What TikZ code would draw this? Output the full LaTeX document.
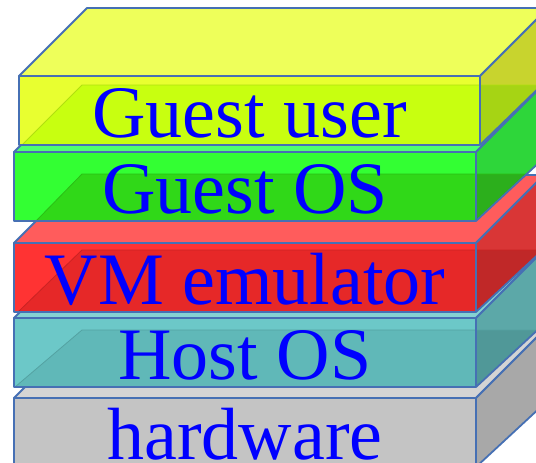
\documentclass[tikz,border=0pt]{standalone}
\usepackage{fontspec}
\setmainfont{Liberation Serif}
\definecolor{edgeblue}{HTML}{4670B4}
\definecolor{txtblue}{HTML}{0000FF}
% yellow
\definecolor{ytop}{HTML}{EEFF5A}\definecolor{yfl}{HTML}{E8FF30}\definecolor{yfd}{HTML}{C8FF10}
\definecolor{yru}{HTML}{C8D42E}\definecolor{yrd}{HTML}{A6D414}
% green
\definecolor{gtop}{HTML}{50FF70}\definecolor{gfl}{HTML}{33FF33}\definecolor{gfd}{HTML}{30D818}
\definecolor{gru}{HTML}{2ED63A}\definecolor{grd}{HTML}{2CAF1C}
% red
\definecolor{rtop}{HTML}{FF5C5C}\definecolor{rfl}{HTML}{FF3333}\definecolor{rfd}{HTML}{E62828}
\definecolor{rru}{HTML}{D93636}\definecolor{rrd}{HTML}{C02828}
% cyan
\definecolor{ctop}{HTML}{85D2D2}\definecolor{cfl}{HTML}{6CC8C8}\definecolor{cfd}{HTML}{60B8B8}
\definecolor{cru}{HTML}{5CA8A8}\definecolor{crd}{HTML}{509898}
% gray
\definecolor{htop}{HTML}{D4D4D4}\definecolor{hfl}{HTML}{C4C4C4}\definecolor{hfd}{HTML}{C4C4C4}
\definecolor{hru}{HTML}{A8A8A8}\definecolor{hrd}{HTML}{A8A8A8}
% #1 L, #2 R, #3 T, #4 B, #5 inner y, #6 inner diag start x, #7 colour prefix, #8 lower-right rise
\newcommand\stackbox[8]{%
  \path[edge, fill=#7top] (#1,#3) -- ({#1+68},{#3-68}) -- ({#2+68},{#3-68}) -- (#2,#3) -- cycle;
  \path[fill=#7ru] (#2,#3) -- ({#2+68},{#3-68}) -- ({#2+68},{#4-#8}) -- (#2,#4) -- cycle;
  \path[fill=#7fl] (#1,#3) rectangle (#2,#4);
  \begin{scope}
    \clip (#1,#3) -- (#2,#3) -- ({#2+68},{#3-68}) -- ({#2+68},{#4-#8}) -- (#2,#4) -- (#1,#4) -- cycle;
    \path[fill=#7fd] (#6,#4) -- (82,#5) -- (#2,#5) -- (#2,#4) -- cycle;
    \path[fill=#7rd] (#2,#5) -- (620,#5) -- (620,#4) -- (#2,#4) -- cycle;
    \draw[#7fd!88!black, line width=0.8pt] (#6,#4) -- (82,#5) -- (620,#5);
  \end{scope}
  \draw[edge] (#1,#3) rectangle (#2,#4);
  \draw[edge] (#2,#3) -- ({#2+68},{#3-68});
  \draw[edge] (#2,#4) -- ({#2+68},{#4-#8});
}
\begin{document}
\begin{tikzpicture}[x=1pt,y=-1pt,
  edge/.style={draw=edgeblue, line width=1.8pt, line join=round},
  lbl/.style={anchor=base, inner sep=0pt, text=txtblue, font=\fontsize{74}{74}\selectfont}]
\useasboundingbox (0,0) rectangle (536,463);
\clip (0,0) rectangle (536,463);
\fill[white] (0,0) rectangle (536,463);
\stackbox{14}{476}{398}{467}{467}{14}{h}{63}
\stackbox{14}{476}{318}{387}{330}{15}{c}{63}
\stackbox{14}{476}{243}{312}{250}{18}{r}{63}
\stackbox{14}{476}{152}{221}{174}{36}{g}{63}
\stackbox{19}{480}{76}{145}{85}{22}{y}{66}
\node[lbl] (tuser) at (249.5,137) {Guest user};
\node[lbl] (tgos) at (245,213) {Guest OS};
\node[lbl] (tvm) at (245,304) {VM emulator};
\node[lbl] (thos) at (245,379) {Host OS};
\node[lbl] (thw) at (245,459) {hardware};
\end{tikzpicture}
\end{document}
